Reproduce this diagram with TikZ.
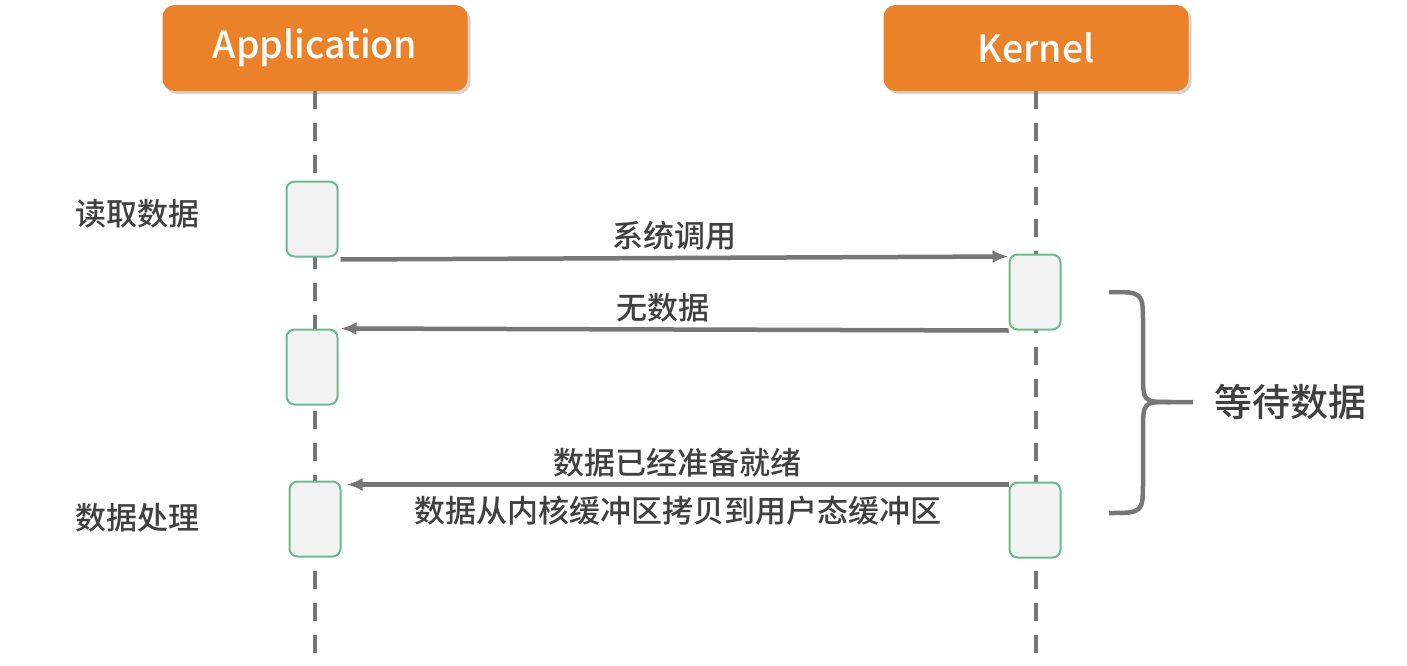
\documentclass[tikz,border=0pt]{standalone}
\usepackage{fontspec}
\setmainfont{Noto Sans CJK SC}[UprightFont={* Medium}]
\usepackage{xcolor}
\usetikzlibrary{positioning,shadows,arrows.meta}
\definecolor{headorange}{HTML}{EB8229}
\definecolor{linegray}{HTML}{777777}
\definecolor{textgray}{HTML}{404040}
\definecolor{boxgreen}{HTML}{6DBA92}
\definecolor{boxfill}{HTML}{F2F2F2}
\tikzstyle{actor}=[
        fill = headorange,
        text = white,
        rounded corners = 12pt,
        minimum width = 305pt,
        minimum height = 86pt,
        font = \fontsize{37.5}{45}\selectfont,
        drop shadow = {shadow xshift=3pt, shadow yshift=-3pt, opacity=.35}
    ]
\tikzstyle{active}=[
    draw = boxgreen,
    fill = boxfill,
    line width = 2pt,
    rounded corners = 8pt,
    minimum width = 51pt,
    minimum height = 75pt
]
\tikzstyle{lifeline}=[
    draw = linegray,
    line width = 4.5pt,
    dash pattern = on 18pt off 14pt
]
\tikzstyle{msg}=[
    draw = linegray,
    line width = 4.5pt,
    -{Latex[length=16pt,width=13pt]}
]
\tikzstyle{lbl}=[
    text = textgray,
    font = \fontsize{31}{36}\selectfont
]

\begin{document}
\begin{tikzpicture}[x=1pt, y=-1pt, node distance={15mm}]
        \useasboundingbox (0,0) rectangle (1407,666);
        \node[actor] (app) at (315,48) {Application};
        \node[actor] (kernel) at (1036,48) {Kernel};
        \coordinate (append) at (315,666);
        \coordinate (kernelend) at (1036,666);

        \draw[lifeline] (app.south) -- (append);
        \draw[lifeline] (kernel.south) -- (kernelend);

        \node[active] (a1) at (312,219) {};
        \node[active] (a2) at (312,367) {};
        \node[active] (a3) at (315,519) {};
        \node[active] (k1) at (1035,292) {};
        \node[active] (k2) at (1035,520) {};

        \node[lbl] (read) at (137,214) {读取数据};
        \node[lbl] (proc) at (137,518) {数据处理};

        \draw[msg] ([xshift=2pt,yshift=-2pt]a1.south east) -- ([yshift=-3pt]k1.north west) node [lbl, midway, above=2pt] {系统调用};
        \draw[msg] (k1.south west) -- ([xshift=2pt]a2.north east) node [lbl, midway, above=2pt, xshift=-12pt] {无数据};
        \draw[msg] ([yshift=-3pt]k2.north west) -- ([xshift=5pt,yshift=-4pt]a3.north east) node [lbl, midway, above=2pt] {数据已经准备就绪} node [lbl, midway, below=6pt] {数据从内核缓冲区拷贝到用户态缓冲区};

        \coordinate (top) at (1109,292);
        \coordinate (tip) at (1193,402);
        \coordinate (bottom) at (1109,513);
        \draw[linegray, line width=4.5pt] (top) .. controls (1143,292) .. (1143,325) -- (1143,372) .. controls (1143,402) .. (1170,402) -- (tip);
        \draw[linegray, line width=4.5pt] (bottom) .. controls (1143,513) .. (1143,480) -- (1143,432) .. controls (1143,402) .. (1170,402);
        \node[lbl, font=\fontsize{38}{44}\selectfont, right=18pt of tip] (wait) {等待数据};

    \end{tikzpicture}
\end{document}
